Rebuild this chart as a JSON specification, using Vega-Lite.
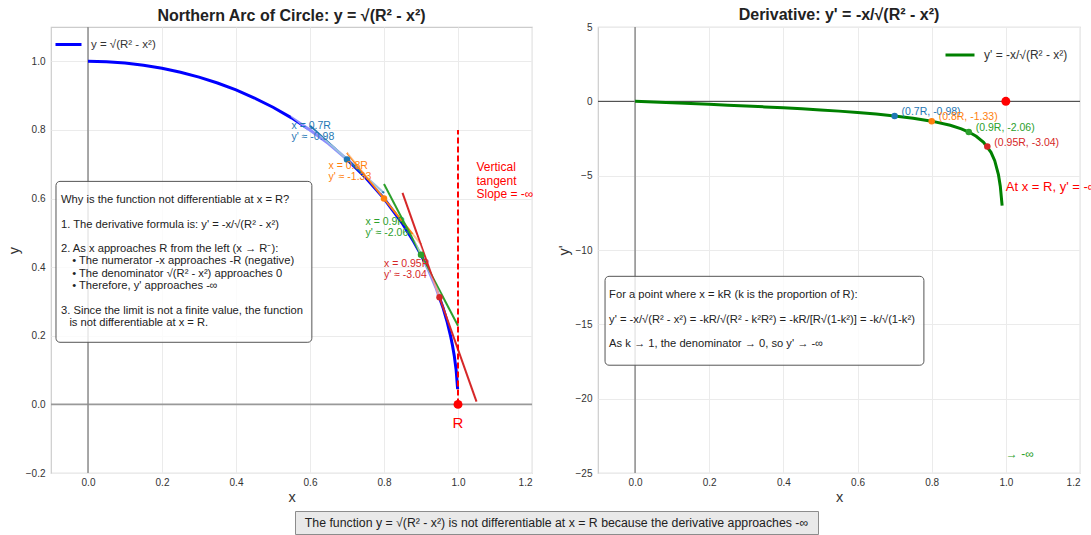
{
  "$schema": "https://vega.github.io/schema/vega-lite/v6.json",
  "background": "white",
  "padding": {"left": 5, "top": 6, "right": 0, "bottom": 0},
  "config": {
    "font": "Liberation Sans",
    "view": {"stroke": "#cccccc", "strokeWidth": 1.2},
    "axis": {"labelFont": "Liberation Sans", "labelFontSize": 10, "labelColor": "#333333", "titleFont": "Liberation Sans", "titleFontSize": 14.5, "titleFontWeight": "normal", "titleColor": "#333333", "ticks": false, "domain": false, "gridColor": "#ebebeb", "gridWidth": 1},
    "axisX": {"labelPadding": 4, "titlePadding": 3},
    "axisY": {"labelPadding": 6, "titlePadding": 4},
    "title": {"font": "Liberation Sans", "fontSize": 16, "fontWeight": "bold", "color": "#222222", "anchor": "middle", "frame": "group"},
    "legend": {"labelFont": "Liberation Sans", "labelFontSize": 11, "labelColor": "#333333"}
  },
  "datasets": {
    "arc": [
      {"x": 0, "y": 1}, {"x": 0.05, "y": 0.99875}, {"x": 0.1, "y": 0.99499}, {"x": 0.15, "y": 0.98869},
      {"x": 0.2, "y": 0.9798}, {"x": 0.25, "y": 0.96825}, {"x": 0.3, "y": 0.95394}, {"x": 0.35, "y": 0.93675},
      {"x": 0.4, "y": 0.91652}, {"x": 0.45, "y": 0.89303}, {"x": 0.5, "y": 0.86603}, {"x": 0.55, "y": 0.83516},
      {"x": 0.6, "y": 0.8}, {"x": 0.65, "y": 0.75993}, {"x": 0.7, "y": 0.71414}, {"x": 0.75, "y": 0.66144},
      {"x": 0.8, "y": 0.6}, {"x": 0.85, "y": 0.52678}, {"x": 0.88, "y": 0.47497}, {"x": 0.9, "y": 0.43589},
      {"x": 0.92, "y": 0.39192}, {"x": 0.94, "y": 0.34117}, {"x": 0.96, "y": 0.28}, {"x": 0.97, "y": 0.2431},
      {"x": 0.98, "y": 0.199}, {"x": 0.985, "y": 0.17255}, {"x": 0.99, "y": 0.14107}, {"x": 0.995, "y": 0.09987},
      {"x": 0.999, "y": 0.04471}
    ],
    "deriv": [
      {"x": 0, "y": 0}, {"x": 0.05, "y": -0.05006}, {"x": 0.1, "y": -0.1005}, {"x": 0.15, "y": -0.15172},
      {"x": 0.2, "y": -0.20412}, {"x": 0.25, "y": -0.2582}, {"x": 0.3, "y": -0.31449}, {"x": 0.35, "y": -0.37363},
      {"x": 0.4, "y": -0.43644}, {"x": 0.45, "y": -0.5039}, {"x": 0.5, "y": -0.57735}, {"x": 0.55, "y": -0.65855},
      {"x": 0.6, "y": -0.75}, {"x": 0.65, "y": -0.85534}, {"x": 0.7, "y": -0.9802}, {"x": 0.75, "y": -1.13389},
      {"x": 0.8, "y": -1.33333}, {"x": 0.85, "y": -1.61357}, {"x": 0.88, "y": -1.85275}, {"x": 0.9, "y": -2.06474},
      {"x": 0.92, "y": -2.34743}, {"x": 0.94, "y": -2.75519}, {"x": 0.96, "y": -3.42857}, {"x": 0.97, "y": -3.99013},
      {"x": 0.98, "y": -4.92462}, {"x": 0.985, "y": -5.70837}, {"x": 0.99, "y": -7.01792}
    ],
    "tangents": [
      {"k": "0.7", "x": 0.6, "y": 0.81216}, {"k": "0.7", "x": 0.8, "y": 0.61612},
      {"k": "0.8", "x": 0.7, "y": 0.73333}, {"k": "0.8", "x": 0.9, "y": 0.46667},
      {"k": "0.9", "x": 0.8, "y": 0.64236}, {"k": "0.9", "x": 1.0, "y": 0.22942},
      {"k": "0.95", "x": 0.85, "y": 0.61649}, {"k": "0.95", "x": 1.05, "y": 0.00801}
    ],
    "pts": [
      {"k": "0.7", "x": 0.7, "y": 0.71414, "yd": -0.9802, "tx": 0.55, "ty": 0.8101, "label": "x = 0.7R\ny' ≈ -0.98", "dlabel": "(0.7R, -0.98)"},
      {"k": "0.8", "x": 0.8, "y": 0.6, "yd": -1.33333, "tx": 0.65, "ty": 0.696, "label": "x = 0.8R\ny' ≈ -1.33", "dlabel": "(0.8R, -1.33)"},
      {"k": "0.9", "x": 0.9, "y": 0.43589, "yd": -2.06474, "tx": 0.75, "ty": 0.5319, "label": "x = 0.9R\ny' ≈ -2.06", "dlabel": "(0.9R, -2.06)"},
      {"k": "0.95", "x": 0.95, "y": 0.31225, "yd": -3.04243, "tx": 0.8, "ty": 0.4083, "label": "x = 0.95R\ny' ≈ -3.04", "dlabel": "(0.95R, -3.04)"}
    ],
    "arrows": [
      {"k": "0.7", "x": 0.551, "y": 0.843, "x2": 0.7, "y2": 0.714},
      {"k": "0.8", "x": 0.705, "y": 0.735, "x2": 0.795, "y2": 0.62},
      {"k": "0.9", "x": 0.88, "y": 0.498, "x2": 0.9, "y2": 0.444},
      {"k": "0.95", "x": 0.903, "y": 0.414, "x2": 0.949, "y2": 0.318}
    ]
  },
  "spacing": 5,
  "vconcat": [
    {
      "hconcat": [
        {
          "width": 481,
          "height": 446,
          "title": {"text": "Northern Arc of Circle: y = √(R² - x²)", "offset": 2},
          "resolve": {"scale": {"color": "independent"}, "legend": {"color": "independent"}},
          "layer": [
            {
              "data": {"values": [{"v": 0}]},
              "mark": {"type": "rule", "color": "#999999", "strokeWidth": 1.8},
              "encoding": {"y": {"field": "v", "type": "quantitative", "scale": {"domain": [-0.2, 1.1], "nice": false, "zero": false}, "axis": {"values": [-0.2, 0, 0.2, 0.4, 0.6, 0.8, 1], "format": ".1f", "title": "y"}}}
            },
            {
              "data": {"values": [{"v": 0}]},
              "mark": {"type": "rule", "color": "#8c8c8c", "strokeWidth": 1.5},
              "encoding": {"x": {"field": "v", "type": "quantitative", "scale": {"domain": [-0.1, 1.2], "nice": false, "zero": false}, "axis": {"values": [0, 0.2, 0.4, 0.6, 0.8, 1, 1.2], "format": ".1f", "title": "x"}}}
            },
            {
              "data": {"name": "arc"},
              "mark": {"type": "line", "strokeWidth": 3},
              "encoding": {
                "x": {"field": "x", "type": "quantitative", "scale": {"domain": [-0.1, 1.2], "nice": false, "zero": false}, "axis": {"values": [0, 0.2, 0.4, 0.6, 0.8, 1, 1.2], "format": ".1f", "title": "x"}},
                "y": {"field": "y", "type": "quantitative", "scale": {"domain": [-0.2, 1.1], "nice": false, "zero": false}, "axis": {"values": [-0.2, 0, 0.2, 0.4, 0.6, 0.8, 1], "format": ".1f", "title": "y"}},
                "color": {"datum": "y = √(R² - x²)", "type": "nominal", "scale": {"range": ["#0000ff"]}, "legend": {"orient": "top-left", "offset": 0, "padding": 3, "title": null, "symbolType": "stroke", "symbolStrokeWidth": 3, "symbolSize": 676, "labelOffset": 8, "labelFontSize": 11.5}}
              }
            },
            {
              "data": {"name": "tangents"},
              "mark": {"type": "line", "strokeWidth": 2},
              "encoding": {
                "x": {"field": "x", "type": "quantitative", "scale": {"domain": [-0.1, 1.2], "nice": false, "zero": false}},
                "y": {"field": "y", "type": "quantitative", "scale": {"domain": [-0.2, 1.1], "nice": false, "zero": false}},
                "color": {"field": "k", "type": "nominal", "scale": {"domain": ["0.7", "0.8", "0.9", "0.95"], "range": ["#1f77b4", "#ff7f0e", "#2ca02c", "#d62728"]}, "legend": null}
              }
            },
            {
              "data": {"values": [{"x": 1, "y": 0, "y2": 0.8}]},
              "mark": {"type": "rule", "color": "#ff0000", "strokeWidth": 2, "strokeDash": [6, 3]},
              "encoding": {
                "x": {"field": "x", "type": "quantitative", "scale": {"domain": [-0.1, 1.2], "nice": false, "zero": false}},
                "y": {"field": "y", "type": "quantitative", "scale": {"domain": [-0.2, 1.1], "nice": false, "zero": false}},
                "y2": {"field": "y2"}
              }
            },
            {
              "data": {"name": "arrows"},
              "mark": {"type": "rule", "color": "#ffffff", "opacity": 0.55, "strokeWidth": 4},
              "encoding": {
                "x": {"field": "x", "type": "quantitative", "scale": {"domain": [-0.1, 1.2], "nice": false, "zero": false}},
                "y": {"field": "y", "type": "quantitative", "scale": {"domain": [-0.2, 1.1], "nice": false, "zero": false}},
                "x2": {"field": "x2"},
                "y2": {"field": "y2"}
              }
            },
            {
              "data": {"name": "pts"},
              "mark": {"type": "point", "filled": true, "opacity": 1, "size": 42},
              "encoding": {
                "x": {"field": "x", "type": "quantitative", "scale": {"domain": [-0.1, 1.2], "nice": false, "zero": false}},
                "y": {"field": "y", "type": "quantitative", "scale": {"domain": [-0.2, 1.1], "nice": false, "zero": false}},
                "color": {"field": "k", "type": "nominal", "scale": {"domain": ["0.7", "0.8", "0.9", "0.95"], "range": ["#1f77b4", "#ff7f0e", "#2ca02c", "#d62728"]}, "legend": null}
              }
            },
            {
              "data": {"values": [{"x": 1, "y": 0}]},
              "mark": {"type": "point", "filled": true, "opacity": 1, "size": 80, "color": "#ff0000"},
              "encoding": {
                "x": {"field": "x", "type": "quantitative", "scale": {"domain": [-0.1, 1.2], "nice": false, "zero": false}},
                "y": {"field": "y", "type": "quantitative", "scale": {"domain": [-0.2, 1.1], "nice": false, "zero": false}}
              }
            },
            {
              "data": {"name": "pts"},
              "mark": {"type": "text", "align": "left", "baseline": "middle", "fontSize": 10.5, "lineBreak": "\n", "lineHeight": 11},
              "encoding": {
                "x": {"field": "tx", "type": "quantitative", "scale": {"domain": [-0.1, 1.2], "nice": false, "zero": false}},
                "y": {"field": "ty", "type": "quantitative", "scale": {"domain": [-0.2, 1.1], "nice": false, "zero": false}},
                "text": {"field": "label"},
                "color": {"field": "k", "type": "nominal", "scale": {"domain": ["0.7", "0.8", "0.9", "0.95"], "range": ["#1f77b4", "#ff7f0e", "#2ca02c", "#d62728"]}, "legend": null}
              }
            },
            {
              "data": {"values": [{"x": 1, "y": -0.055, "t": "R"}]},
              "mark": {"type": "text", "align": "center", "baseline": "middle", "fontSize": 15, "color": "#ff0000"},
              "encoding": {
                "x": {"field": "x", "type": "quantitative", "scale": {"domain": [-0.1, 1.2], "nice": false, "zero": false}},
                "y": {"field": "y", "type": "quantitative", "scale": {"domain": [-0.2, 1.1], "nice": false, "zero": false}},
                "text": {"field": "t"}
              }
            },
            {
              "data": {"values": [{"x": 1.05, "y": 0.691, "t": "Vertical\ntangent\nSlope = -∞"}]},
              "mark": {"type": "text", "align": "left", "baseline": "middle", "fontSize": 12, "lineBreak": "\n", "lineHeight": 13.2, "color": "#ff0000"},
              "encoding": {
                "x": {"field": "x", "type": "quantitative", "scale": {"domain": [-0.1, 1.2], "nice": false, "zero": false}},
                "y": {"field": "y", "type": "quantitative", "scale": {"domain": [-0.2, 1.1], "nice": false, "zero": false}},
                "text": {"field": "t"}
              }
            },
            {
              "data": {"values": [{"x": -0.0865, "x2": 0.605, "y": 0.181, "y2": 0.65}]},
              "mark": {"type": "rect", "fill": "#ffffff", "fillOpacity": 0.8, "stroke": "#555555", "strokeWidth": 1, "cornerRadius": 4},
              "encoding": {
                "x": {"field": "x", "type": "quantitative", "scale": {"domain": [-0.1, 1.2], "nice": false, "zero": false}},
                "y": {"field": "y", "type": "quantitative", "scale": {"domain": [-0.2, 1.1], "nice": false, "zero": false}},
                "x2": {"field": "x2"},
                "y2": {"field": "y2"}
              }
            },
            {
              "data": {"values": [{"x": -0.073, "y": 0.596, "t": "Why is the function not differentiable at x = R?\n\u200b\n1. The derivative formula is: y' = -x/√(R² - x²)\n\u200b\n2. As x approaches R from the left (x → R⁻):\n\u200b\u2002\u2002• The numerator -x approaches -R (negative)\n\u200b\u2002\u2002• The denominator √(R² - x²) approaches 0\n\u200b\u2002\u2002• Therefore, y' approaches -∞\n\u200b\n3. Since the limit is not a finite value, the function\n\u200b\u2002\u2005is not differentiable at x = R."}]},
              "mark": {"type": "text", "align": "left", "baseline": "middle", "fontSize": 11.2, "lineBreak": "\n", "lineHeight": 12.3, "color": "#222222"},
              "encoding": {
                "x": {"field": "x", "type": "quantitative", "scale": {"domain": [-0.1, 1.2], "nice": false, "zero": false}},
                "y": {"field": "y", "type": "quantitative", "scale": {"domain": [-0.2, 1.1], "nice": false, "zero": false}},
                "text": {"field": "t"}
              }
            }
          ]
        },
        {
          "width": 482,
          "height": 446,
          "title": {"text": "Derivative: y' = -x/√(R² - x²)", "offset": -1},
          "resolve": {"scale": {"color": "independent"}, "legend": {"color": "independent"}},
          "layer": [
            {
              "data": {"values": [{"v": 0}]},
              "mark": {"type": "rule", "color": "#333333", "strokeWidth": 1},
              "encoding": {"y": {"field": "v", "type": "quantitative", "scale": {"domain": [-25, 5], "nice": false, "zero": false}, "axis": {"values": [5, 0, -5, -10, -15, -20, -25], "format": "d", "title": "y'"}}}
            },
            {
              "data": {"values": [{"v": 0}]},
              "mark": {"type": "rule", "color": "#8c8c8c", "strokeWidth": 1.5},
              "encoding": {"x": {"field": "v", "type": "quantitative", "scale": {"domain": [-0.1, 1.2], "nice": false, "zero": false}, "axis": {"values": [0, 0.2, 0.4, 0.6, 0.8, 1, 1.2], "format": ".1f", "title": "x"}}}
            },
            {
              "data": {"name": "deriv"},
              "mark": {"type": "line", "strokeWidth": 3},
              "encoding": {
                "x": {"field": "x", "type": "quantitative", "scale": {"domain": [-0.1, 1.2], "nice": false, "zero": false}, "axis": {"values": [0, 0.2, 0.4, 0.6, 0.8, 1, 1.2], "format": ".1f", "title": "x"}},
                "y": {"field": "y", "type": "quantitative", "scale": {"domain": [-25, 5], "nice": false, "zero": false}, "axis": {"values": [5, 0, -5, -10, -15, -20, -25], "format": "d", "title": "y'"}},
                "color": {"datum": "y' = -x/√(R² - x²)", "type": "nominal", "scale": {"range": ["#008000"]}, "legend": {"orient": "top-right", "offset": 12, "padding": 0, "title": null, "symbolType": "stroke", "symbolStrokeWidth": 3, "symbolSize": 841, "labelOffset": 8, "labelFontSize": 12}}
              }
            },
            {
              "data": {"name": "pts"},
              "mark": {"type": "point", "filled": true, "opacity": 1, "size": 42},
              "encoding": {
                "x": {"field": "x", "type": "quantitative", "scale": {"domain": [-0.1, 1.2], "nice": false, "zero": false}},
                "y": {"field": "yd", "type": "quantitative", "scale": {"domain": [-25, 5], "nice": false, "zero": false}},
                "color": {"field": "k", "type": "nominal", "scale": {"domain": ["0.7", "0.8", "0.9", "0.95"], "range": ["#1f77b4", "#ff7f0e", "#2ca02c", "#d62728"]}, "legend": null}
              }
            },
            {
              "data": {"values": [{"x": 1, "y": 0}]},
              "mark": {"type": "point", "filled": true, "opacity": 1, "size": 80, "color": "#ff0000"},
              "encoding": {
                "x": {"field": "x", "type": "quantitative", "scale": {"domain": [-0.1, 1.2], "nice": false, "zero": false}},
                "y": {"field": "y", "type": "quantitative", "scale": {"domain": [-25, 5], "nice": false, "zero": false}}
              }
            },
            {
              "data": {"name": "pts"},
              "mark": {"type": "text", "align": "left", "baseline": "middle", "fontSize": 10.5, "dx": 7, "dy": -4},
              "encoding": {
                "x": {"field": "x", "type": "quantitative", "scale": {"domain": [-0.1, 1.2], "nice": false, "zero": false}},
                "y": {"field": "yd", "type": "quantitative", "scale": {"domain": [-25, 5], "nice": false, "zero": false}},
                "text": {"field": "dlabel"},
                "color": {"field": "k", "type": "nominal", "scale": {"domain": ["0.7", "0.8", "0.9", "0.95"], "range": ["#1f77b4", "#ff7f0e", "#2ca02c", "#d62728"]}, "legend": null}
              }
            },
            {
              "data": {"values": [{"x": 1.0, "y": -5.75, "t": "At x = R, y' = -∞"}]},
              "mark": {"type": "text", "align": "left", "baseline": "middle", "fontSize": 13, "color": "#ff0000"},
              "encoding": {
                "x": {"field": "x", "type": "quantitative", "scale": {"domain": [-0.1, 1.2], "nice": false, "zero": false}},
                "y": {"field": "y", "type": "quantitative", "scale": {"domain": [-25, 5], "nice": false, "zero": false}},
                "text": {"field": "t"}
              }
            },
            {
              "data": {"values": [{"x": 1.0, "y": -23.7, "t": "→ -∞"}]},
              "mark": {"type": "text", "align": "left", "baseline": "middle", "fontSize": 12, "color": "#2ca02c"},
              "encoding": {
                "x": {"field": "x", "type": "quantitative", "scale": {"domain": [-0.1, 1.2], "nice": false, "zero": false}},
                "y": {"field": "y", "type": "quantitative", "scale": {"domain": [-25, 5], "nice": false, "zero": false}},
                "text": {"field": "t"}
              }
            },
            {
              "data": {"values": [{"x": -0.081, "x2": 0.779, "y": -11.77, "y2": -17.75}]},
              "mark": {"type": "rect", "fill": "#ffffff", "fillOpacity": 0.8, "stroke": "#555555", "strokeWidth": 1, "cornerRadius": 4},
              "encoding": {
                "x": {"field": "x", "type": "quantitative", "scale": {"domain": [-0.1, 1.2], "nice": false, "zero": false}},
                "y": {"field": "y", "type": "quantitative", "scale": {"domain": [-25, 5], "nice": false, "zero": false}},
                "x2": {"field": "x2"},
                "y2": {"field": "y2"}
              }
            },
            {
              "data": {"values": [{"x": -0.07, "y": -13.03, "t": "For a point where x = kR (k is the proportion of R):\n\u200b\ny' = -x/√(R² - x²) = -kR/√(R² - k²R²) = -kR/[R√(1-k²)] = -k/√(1-k²)\n\u200b\nAs k → 1, the denominator → 0, so y' → -∞"}]},
              "mark": {"type": "text", "align": "left", "baseline": "middle", "fontSize": 11.2, "lineBreak": "\n", "lineHeight": 12.3, "color": "#222222"},
              "encoding": {
                "x": {"field": "x", "type": "quantitative", "scale": {"domain": [-0.1, 1.2], "nice": false, "zero": false}},
                "y": {"field": "y", "type": "quantitative", "scale": {"domain": [-25, 5], "nice": false, "zero": false}},
                "text": {"field": "t"}
              }
            }
          ]
        }
      ],
      "spacing": 66,
      "bounds": "flush",
      "resolve": {"scale": {"x": "independent", "y": "independent", "color": "independent"}, "axis": {"x": "independent", "y": "independent"}, "legend": {"color": "independent"}}
    },
    {
      "hconcat": [
        {
          "width": 243,
          "height": 23,
          "data": {"values": [{"t": ""}]},
          "mark": {"type": "text"},
          "encoding": {"text": {"field": "t"}},
          "view": {"stroke": null}
        },
        {
          "width": 523,
          "height": 23,
          "data": {"values": [{"t": "The function y = √(R² - x²) is not differentiable at x = R because the derivative approaches -∞"}]},
          "mark": {"type": "text", "fontSize": 12.3, "color": "#222222", "baseline": "middle", "align": "center"},
          "encoding": {"text": {"field": "t"}},
          "view": {"fill": "#e9e9e9", "stroke": "#8c8c8c", "strokeWidth": 1}
        }
      ],
      "spacing": 0
    }
  ]
}
